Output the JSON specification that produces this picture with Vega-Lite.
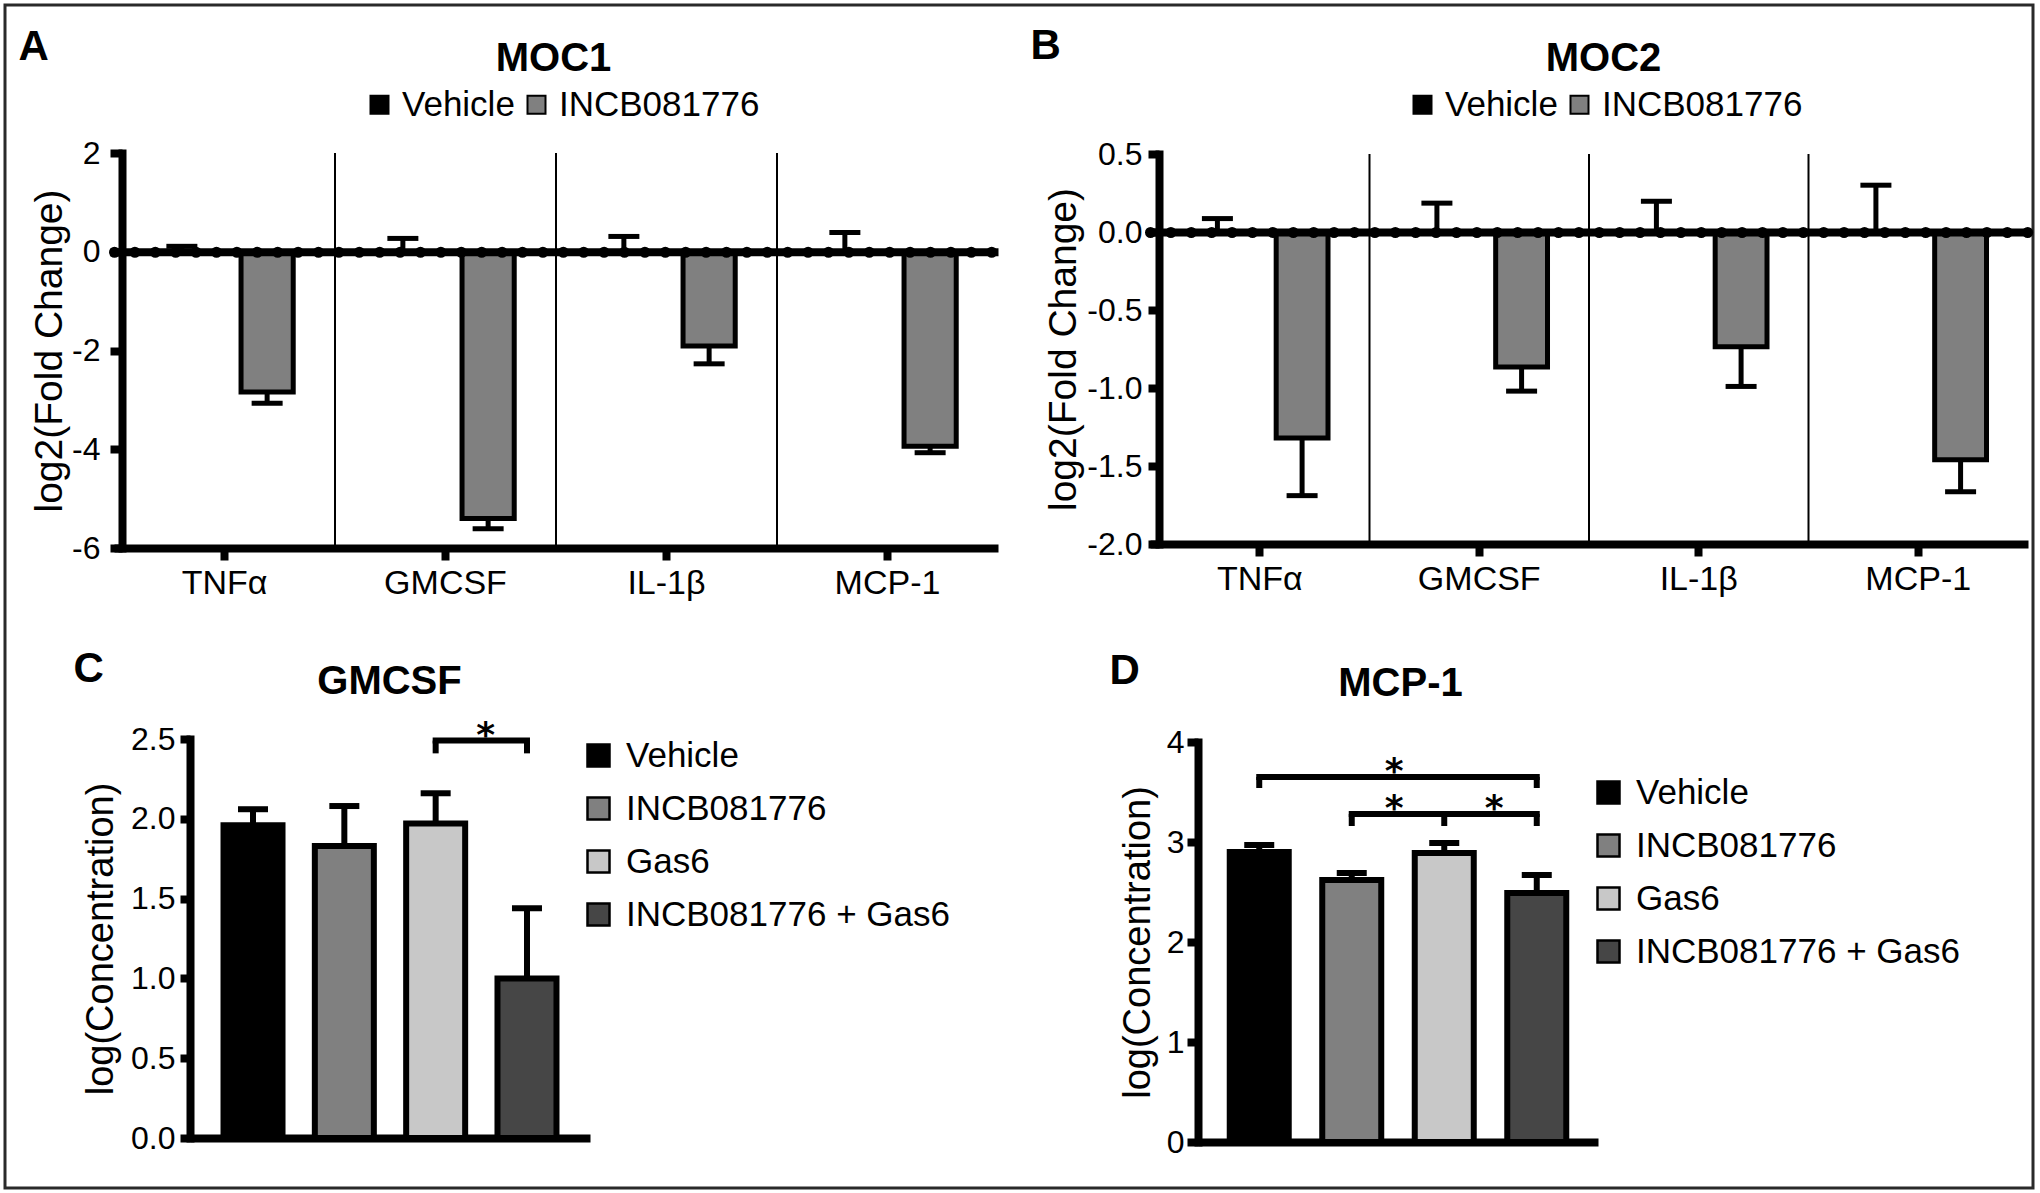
{
  "$schema": "https://vega.github.io/schema/vega-lite/v6.json",
  "width": 2040,
  "height": 1193,
  "autosize": {"type": "fit", "contains": "padding"},
  "padding": {"left": 5, "top": 5, "right": 7, "bottom": 5},
  "background": "white",
  "datasets": {
    "moc": [
      {"panel": "MOC1", "cytokine": "TNFα", "group": "Vehicle", "mean": 0, "errEnd": 0.11},
      {"panel": "MOC1", "cytokine": "TNFα", "group": "INCB081776", "mean": -2.84, "errEnd": -3.07},
      {"panel": "MOC1", "cytokine": "GMCSF", "group": "Vehicle", "mean": 0, "errEnd": 0.27},
      {"panel": "MOC1", "cytokine": "GMCSF", "group": "INCB081776", "mean": -5.4, "errEnd": -5.61},
      {"panel": "MOC1", "cytokine": "IL-1β", "group": "Vehicle", "mean": 0, "errEnd": 0.31},
      {"panel": "MOC1", "cytokine": "IL-1β", "group": "INCB081776", "mean": -1.91, "errEnd": -2.27},
      {"panel": "MOC1", "cytokine": "MCP-1", "group": "Vehicle", "mean": 0, "errEnd": 0.39},
      {"panel": "MOC1", "cytokine": "MCP-1", "group": "INCB081776", "mean": -3.94, "errEnd": -4.07},
      {"panel": "MOC2", "cytokine": "TNFα", "group": "Vehicle", "mean": 0, "errEnd": 0.086},
      {"panel": "MOC2", "cytokine": "TNFα", "group": "INCB081776", "mean": -1.32, "errEnd": -1.69},
      {"panel": "MOC2", "cytokine": "GMCSF", "group": "Vehicle", "mean": 0, "errEnd": 0.185},
      {"panel": "MOC2", "cytokine": "GMCSF", "group": "INCB081776", "mean": -0.865, "errEnd": -1.02},
      {"panel": "MOC2", "cytokine": "IL-1β", "group": "Vehicle", "mean": 0, "errEnd": 0.197},
      {"panel": "MOC2", "cytokine": "IL-1β", "group": "INCB081776", "mean": -0.735, "errEnd": -0.99},
      {"panel": "MOC2", "cytokine": "MCP-1", "group": "Vehicle", "mean": 0, "errEnd": 0.3},
      {"panel": "MOC2", "cytokine": "MCP-1", "group": "INCB081776", "mean": -1.46, "errEnd": -1.665}
    ],
    "conc": [
      {"panel": "GMCSF", "group": "Vehicle", "mean": 1.96, "errEnd": 2.06},
      {"panel": "GMCSF", "group": "INCB081776", "mean": 1.83, "errEnd": 2.08},
      {"panel": "GMCSF", "group": "Gas6", "mean": 1.97, "errEnd": 2.16},
      {"panel": "GMCSF", "group": "INCB081776 + Gas6", "mean": 1.0, "errEnd": 1.44},
      {"panel": "MCP-1", "group": "Vehicle", "mean": 2.9, "errEnd": 2.97},
      {"panel": "MCP-1", "group": "INCB081776", "mean": 2.62, "errEnd": 2.69},
      {"panel": "MCP-1", "group": "Gas6", "mean": 2.89, "errEnd": 2.99},
      {"panel": "MCP-1", "group": "INCB081776 + Gas6", "mean": 2.49, "errEnd": 2.67}
    ],
    "brackets": [
      {"panel": "GMCSF", "from": "Gas6", "to": "INCB081776 + Gas6", "y": 2.49},
      {"panel": "MCP-1", "from": "Vehicle", "to": "INCB081776 + Gas6", "y": 3.65},
      {"panel": "MCP-1", "from": "INCB081776", "to": "Gas6", "y": 3.28},
      {"panel": "MCP-1", "from": "Gas6", "to": "INCB081776 + Gas6", "y": 3.28}
    ],
    "legs": [
      {"panel": "GMCSF", "group": "Gas6", "y": 2.49, "legEnd": 2.41},
      {"panel": "GMCSF", "group": "INCB081776 + Gas6", "y": 2.49, "legEnd": 2.41},
      {"panel": "MCP-1", "group": "Vehicle", "y": 3.65, "legEnd": 3.54},
      {"panel": "MCP-1", "group": "INCB081776 + Gas6", "y": 3.65, "legEnd": 3.54},
      {"panel": "MCP-1", "group": "INCB081776", "y": 3.28, "legEnd": 3.16},
      {"panel": "MCP-1", "group": "Gas6", "y": 3.28, "legEnd": 3.16},
      {"panel": "MCP-1", "group": "INCB081776 + Gas6", "y": 3.28, "legEnd": 3.16}
    ],
    "stars": [
      {"panel": "GMCSF", "leftOf": "Gas6", "y": 2.49},
      {"panel": "MCP-1", "leftOf": "INCB081776", "y": 3.65},
      {"panel": "MCP-1", "leftOf": "INCB081776", "y": 3.28},
      {"panel": "MCP-1", "leftOf": "Gas6", "y": 3.28}
    ]
  },
  "layer": [
    {
      "data": {"name": "moc"},
      "transform": [{"filter": "datum.panel === 'MOC1'"}],
      "mark": {"type": "bar", "stroke": "black", "strokeWidth": 5},
      "encoding": {
        "x": {"field": "cytokine", "type": "nominal",
          "scale": {"domain": ["TNFα", "GMCSF", "IL-1β", "MCP-1"], "range": [109, 993], "paddingInner": 0, "paddingOuter": 0},
          "axis": {"orient": "bottom", "offset": -640, "domainWidth": 8, "tickSize": 12, "tickWidth": 8, "labelFontSize": 34, "labelAngle": 0, "labelBaseline": "alphabetic", "labelPadding": 33,
            "title": "MOC1", "titleFontSize": 40, "titleFontWeight": "bold", "titleX": 548, "titleY": -478, "titleAlign": "center", "titleBaseline": "alphabetic", "titleAngle": 0}},
        "xOffset": {"field": "group", "type": "nominal", "scale": {"domain": ["Vehicle", "INCB081776"], "paddingInner": 0.388, "paddingOuter": 0.49}},
        "y": {"field": "mean", "type": "quantitative",
          "scale": {"domain": [-6, 2], "range": [543, 148], "nice": false, "zero": false},
          "axis": {"orient": "left", "offset": -117, "values": [2, 0, -2, -4, -6], "labelExpr": "replace(format(datum.value, 'd'), '−', '-')", "domainWidth": 8, "domainCap": "square", "tickSize": 12, "tickWidth": 8, "labelPadding": 10, "labelFontSize": 32,
            "title": "log2(Fold Change)", "titleFontSize": 39, "titleAngle": -90, "titleX": -61, "titleAlign": "center", "titleBaseline": "alphabetic"}},
        "fill": {"field": "group", "type": "nominal",
          "scale": {"domain": ["Vehicle", "INCB081776"], "range": ["#000000", "#808080"]},
          "legend": {"orient": "none", "legendX": 357, "legendY": 82, "direction": "horizontal", "title": null, "symbolType": "square", "symbolSize": 324, "symbolStrokeColor": "black", "symbolStrokeWidth": 2, "labelFontSize": 35, "labelOffset": 5, "columnPadding": 4}}
      }
    },
    {
      "data": {"name": "moc"},
      "transform": [{"filter": "datum.panel === 'MOC1' && datum.group === 'Vehicle' && datum.cytokine !== 'TNFα'"}],
      "mark": {"type": "rule", "color": "black", "strokeWidth": 2, "xOffset": -110.5},
      "encoding": {
        "x": {"field": "cytokine", "type": "nominal",
          "scale": {"domain": ["TNFα", "GMCSF", "IL-1β", "MCP-1"], "range": [109, 993], "paddingInner": 0, "paddingOuter": 0}, "axis": null},
        "y": {"datum": 2, "type": "quantitative",
          "scale": {"domain": [-6, 2], "range": [543, 148], "nice": false, "zero": false}, "axis": null},
        "y2": {"datum": -6}
      }
    },
    {
      "data": {"name": "moc"},
      "transform": [{"filter": "datum.panel === 'MOC1'"}],
      "mark": {"type": "rule", "color": "black", "strokeWidth": 5},
      "encoding": {
        "x": {"field": "cytokine", "type": "nominal",
          "scale": {"domain": ["TNFα", "GMCSF", "IL-1β", "MCP-1"], "range": [109, 993], "paddingInner": 0, "paddingOuter": 0},
          "axis": {"orient": "bottom", "offset": -936.25, "domainWidth": 8, "ticks": false, "labels": false, "title": null, "zindex": 1}},
        "xOffset": {"field": "group", "type": "nominal", "scale": {"domain": ["Vehicle", "INCB081776"], "paddingInner": 0.388, "paddingOuter": 0.49}},
        "y": {"field": "mean", "type": "quantitative",
          "scale": {"domain": [-6, 2], "range": [543, 148], "nice": false, "zero": false},
          "axis": {"orient": "left", "offset": 0, "domain": false, "ticks": false, "labels": false, "title": "A", "titleAngle": 0, "titleX": 13, "titleY": 54, "titleAlign": "left", "titleBaseline": "alphabetic", "titleFontSize": 42, "titleFontWeight": "bold"}},
        "y2": {"field": "errEnd"}
      }
    },
    {
      "data": {"name": "moc"},
      "transform": [{"filter": "datum.panel === 'MOC1'"}],
      "mark": {"type": "tick", "color": "black", "thickness": 5, "size": 31, "opacity": 1},
      "encoding": {
        "x": {"field": "cytokine", "type": "nominal",
          "scale": {"domain": ["TNFα", "GMCSF", "IL-1β", "MCP-1"], "range": [109, 993], "paddingInner": 0, "paddingOuter": 0},
          "axis": {"orient": "bottom", "offset": -936.25, "domainWidth": 11, "domainDash": [0, 20.4], "domainCap": "round", "ticks": false, "labels": false, "title": null, "zindex": 1}},
        "xOffset": {"field": "group", "type": "nominal", "scale": {"domain": ["Vehicle", "INCB081776"], "paddingInner": 0.388, "paddingOuter": 0.49}},
        "y": {"field": "errEnd", "type": "quantitative",
          "scale": {"domain": [-6, 2], "range": [543, 148], "nice": false, "zero": false}, "axis": null}
      }
    },
    {
      "data": {"name": "moc"},
      "transform": [{"filter": "datum.panel === 'MOC2'"}],
      "mark": {"type": "bar", "stroke": "black", "strokeWidth": 5},
      "encoding": {
        "x": {"field": "cytokine", "type": "nominal",
          "scale": {"domain": ["TNFα", "GMCSF", "IL-1β", "MCP-1"], "range": [1145, 2023], "paddingInner": 0, "paddingOuter": 0},
          "axis": {"orient": "bottom", "offset": -644, "domainWidth": 8, "tickSize": 12, "tickWidth": 8, "labelFontSize": 34, "labelAngle": 0, "labelBaseline": "alphabetic", "labelPadding": 33,
            "title": "MOC2", "titleFontSize": 40, "titleFontWeight": "bold", "titleX": 1598, "titleY": -474, "titleAlign": "center", "titleBaseline": "alphabetic", "titleAngle": 0}},
        "xOffset": {"field": "group", "type": "nominal", "scale": {"domain": ["Vehicle", "INCB081776"], "paddingInner": 0.388, "paddingOuter": 0.49}},
        "y": {"field": "mean", "type": "quantitative",
          "scale": {"domain": [-2, 0.5], "range": [539, 149], "nice": false, "zero": false},
          "axis": {"orient": "left", "offset": -1154, "values": [0.5, 0, -0.5, -1, -1.5, -2], "labelExpr": "replace(format(datum.value, '.1f'), '−', '-')", "domainWidth": 8, "domainCap": "square", "tickSize": 11, "tickWidth": 8, "labelPadding": 6, "labelFontSize": 32,
            "title": "log2(Fold Change)", "titleFontSize": 39, "titleAngle": -90, "titleX": -84, "titleAlign": "center", "titleBaseline": "alphabetic"}},
        "fill": {"field": "group", "type": "nominal",
          "scale": {"domain": ["Vehicle", "INCB081776"], "range": ["#000000", "#808080"]},
          "legend": {"orient": "none", "legendX": 1400, "legendY": 82, "direction": "horizontal", "title": null, "symbolType": "square", "symbolSize": 324, "symbolStrokeColor": "black", "symbolStrokeWidth": 2, "labelFontSize": 35, "labelOffset": 5, "columnPadding": 4}}
      }
    },
    {
      "data": {"name": "moc"},
      "transform": [{"filter": "datum.panel === 'MOC2' && datum.group === 'Vehicle' && datum.cytokine !== 'TNFα'"}],
      "mark": {"type": "rule", "color": "black", "strokeWidth": 2, "xOffset": -109.75},
      "encoding": {
        "x": {"field": "cytokine", "type": "nominal",
          "scale": {"domain": ["TNFα", "GMCSF", "IL-1β", "MCP-1"], "range": [1145, 2023], "paddingInner": 0, "paddingOuter": 0}, "axis": null},
        "y": {"datum": 0.5, "type": "quantitative",
          "scale": {"domain": [-2, 0.5], "range": [539, 149], "nice": false, "zero": false}, "axis": null},
        "y2": {"datum": -2}
      }
    },
    {
      "data": {"name": "moc"},
      "transform": [{"filter": "datum.panel === 'MOC2'"}],
      "mark": {"type": "rule", "color": "black", "strokeWidth": 5},
      "encoding": {
        "x": {"field": "cytokine", "type": "nominal",
          "scale": {"domain": ["TNFα", "GMCSF", "IL-1β", "MCP-1"], "range": [1145, 2023], "paddingInner": 0, "paddingOuter": 0},
          "axis": {"orient": "bottom", "offset": -956, "domainWidth": 8, "ticks": false, "labels": false, "title": null, "zindex": 1}},
        "xOffset": {"field": "group", "type": "nominal", "scale": {"domain": ["Vehicle", "INCB081776"], "paddingInner": 0.388, "paddingOuter": 0.49}},
        "y": {"field": "mean", "type": "quantitative",
          "scale": {"domain": [-2, 0.5], "range": [539, 149], "nice": false, "zero": false},
          "axis": {"orient": "left", "offset": 0, "domain": false, "ticks": false, "labels": false, "title": "B", "titleAngle": 0, "titleX": 1025, "titleY": 53, "titleAlign": "left", "titleBaseline": "alphabetic", "titleFontSize": 42, "titleFontWeight": "bold"}},
        "y2": {"field": "errEnd"}
      }
    },
    {
      "data": {"name": "moc"},
      "transform": [{"filter": "datum.panel === 'MOC2'"}],
      "mark": {"type": "tick", "color": "black", "thickness": 5, "size": 31, "opacity": 1},
      "encoding": {
        "x": {"field": "cytokine", "type": "nominal",
          "scale": {"domain": ["TNFα", "GMCSF", "IL-1β", "MCP-1"], "range": [1145, 2023], "paddingInner": 0, "paddingOuter": 0},
          "axis": {"orient": "bottom", "offset": -956, "domainWidth": 11, "domainDash": [0, 20.4], "domainCap": "round", "ticks": false, "labels": false, "title": null, "zindex": 1}},
        "xOffset": {"field": "group", "type": "nominal", "scale": {"domain": ["Vehicle", "INCB081776"], "paddingInner": 0.388, "paddingOuter": 0.49}},
        "y": {"field": "errEnd", "type": "quantitative",
          "scale": {"domain": [-2, 0.5], "range": [539, 149], "nice": false, "zero": false}, "axis": null}
      }
    },
    {
      "data": {"name": "conc"},
      "transform": [{"filter": "datum.panel === 'GMCSF'"}],
      "mark": {"type": "bar", "stroke": "black", "strokeWidth": 6, "width": 59},
      "encoding": {
        "x": {"field": "group", "type": "nominal",
          "scale": {"domain": ["Vehicle", "INCB081776", "Gas6", "INCB081776 + Gas6"], "range": [185, 585], "paddingInner": 0, "paddingOuter": 0.19},
          "axis": {"orient": "bottom", "offset": -50, "domainWidth": 8, "ticks": false, "labels": false,
            "title": "GMCSF", "titleFontSize": 40, "titleFontWeight": "bold", "titleX": 384, "titleY": -445, "titleAlign": "center", "titleBaseline": "alphabetic", "titleAngle": 0}},
        "y": {"field": "mean", "type": "quantitative",
          "scale": {"domain": [0, 2.5], "range": [1133, 734], "nice": false, "zero": false},
          "axis": {"orient": "left", "offset": -185, "values": [0, 0.5, 1, 1.5, 2, 2.5], "format": ".1f", "domainWidth": 8, "domainCap": "square", "tickSize": 10, "tickWidth": 8, "labelPadding": 5, "labelFontSize": 32,
            "title": "log(Concentration)", "titleFontSize": 38, "titleAngle": -90, "titleX": -78, "titleAlign": "center", "titleBaseline": "alphabetic"}},
        "fill": {"field": "group", "type": "nominal",
          "scale": {"domain": ["Vehicle", "INCB081776", "Gas6", "INCB081776 + Gas6"], "range": ["#000000", "#808080", "#c8c8c8", "#464646"]},
          "legend": {"orient": "none", "legendX": 576, "legendY": 733, "direction": "vertical", "title": null, "symbolType": "square", "symbolSize": 484, "symbolStrokeColor": "black", "symbolStrokeWidth": 2.5, "labelFontSize": 35, "labelOffset": 10, "rowPadding": 17}}
      }
    },
    {
      "data": {"name": "conc"},
      "transform": [{"filter": "datum.panel === 'GMCSF'"}],
      "mark": {"type": "rule", "color": "black", "strokeWidth": 6},
      "encoding": {
        "x": {"field": "group", "type": "nominal",
          "scale": {"domain": ["Vehicle", "INCB081776", "Gas6", "INCB081776 + Gas6"], "range": [185, 585], "paddingInner": 0, "paddingOuter": 0.19}, "axis": null},
        "y": {"field": "mean", "type": "quantitative",
          "scale": {"domain": [0, 2.5], "range": [1133, 734], "nice": false, "zero": false},
          "axis": {"orient": "left", "offset": 0, "domain": false, "ticks": false, "labels": false, "title": "C", "titleAngle": 0, "titleX": 68, "titleY": 676, "titleAlign": "left", "titleBaseline": "alphabetic", "titleFontSize": 42, "titleFontWeight": "bold"}},
        "y2": {"field": "errEnd"}
      }
    },
    {
      "data": {"name": "conc"},
      "transform": [{"filter": "datum.panel === 'GMCSF'"}],
      "mark": {"type": "tick", "color": "black", "thickness": 6, "size": 30, "opacity": 1},
      "encoding": {
        "x": {"field": "group", "type": "nominal",
          "scale": {"domain": ["Vehicle", "INCB081776", "Gas6", "INCB081776 + Gas6"], "range": [185, 585], "paddingInner": 0, "paddingOuter": 0.19}, "axis": null},
        "y": {"field": "errEnd", "type": "quantitative",
          "scale": {"domain": [0, 2.5], "range": [1133, 734], "nice": false, "zero": false}, "axis": null}
      }
    },
    {
      "data": {"name": "brackets"},
      "transform": [{"filter": "datum.panel === 'GMCSF'"}],
      "mark": {"type": "rule", "color": "black", "strokeWidth": 6, "strokeCap": "square"},
      "encoding": {
        "x": {"field": "from", "type": "nominal",
          "scale": {"domain": ["Vehicle", "INCB081776", "Gas6", "INCB081776 + Gas6"], "range": [185, 585], "paddingInner": 0, "paddingOuter": 0.19}, "axis": null},
        "x2": {"field": "to"},
        "y": {"field": "y", "type": "quantitative",
          "scale": {"domain": [0, 2.5], "range": [1133, 734], "nice": false, "zero": false}, "axis": null}
      }
    },
    {
      "data": {"name": "legs"},
      "transform": [{"filter": "datum.panel === 'GMCSF'"}],
      "mark": {"type": "rule", "color": "black", "strokeWidth": 6},
      "encoding": {
        "x": {"field": "group", "type": "nominal",
          "scale": {"domain": ["Vehicle", "INCB081776", "Gas6", "INCB081776 + Gas6"], "range": [185, 585], "paddingInner": 0, "paddingOuter": 0.19}, "axis": null},
        "y": {"field": "y", "type": "quantitative",
          "scale": {"domain": [0, 2.5], "range": [1133, 734], "nice": false, "zero": false}, "axis": null},
        "y2": {"field": "legEnd"}
      }
    },
    {
      "data": {"name": "stars"},
      "transform": [{"filter": "datum.panel === 'GMCSF'"}],
      "mark": {"type": "text", "text": "*", "font": "DejaVu Sans", "fontSize": 36, "fontWeight": "bold", "baseline": "alphabetic", "align": "center", "dx": 45.66, "dy": 6, "color": "black"},
      "encoding": {
        "x": {"field": "leftOf", "type": "nominal",
          "scale": {"domain": ["Vehicle", "INCB081776", "Gas6", "INCB081776 + Gas6"], "range": [185, 585], "paddingInner": 0, "paddingOuter": 0.19}, "axis": null},
        "y": {"field": "y", "type": "quantitative",
          "scale": {"domain": [0, 2.5], "range": [1133, 734], "nice": false, "zero": false}, "axis": null}
      }
    },
    {
      "data": {"name": "conc"},
      "transform": [{"filter": "datum.panel === 'MCP-1'"}],
      "mark": {"type": "bar", "stroke": "black", "strokeWidth": 6, "width": 59},
      "encoding": {
        "x": {"field": "group", "type": "nominal",
          "scale": {"domain": ["Vehicle", "INCB081776", "Gas6", "INCB081776 + Gas6"], "range": [1193, 1593], "paddingInner": 0, "paddingOuter": 0.162},
          "axis": {"orient": "bottom", "offset": -46, "domainWidth": 8, "ticks": false, "labels": false,
            "title": "MCP-1", "titleFontSize": 40, "titleFontWeight": "bold", "titleX": 1395, "titleY": -447, "titleAlign": "center", "titleBaseline": "alphabetic", "titleAngle": 0}},
        "y": {"field": "mean", "type": "quantitative",
          "scale": {"domain": [0, 4], "range": [1137, 737], "nice": false, "zero": false},
          "axis": {"orient": "left", "offset": -1193, "values": [0, 1, 2, 3, 4], "format": "d", "domainWidth": 8, "domainCap": "square", "tickSize": 11, "tickWidth": 8, "labelPadding": 3, "labelFontSize": 32,
            "title": "log(Concentration)", "titleFontSize": 38, "titleAngle": -90, "titleX": -49, "titleAlign": "center", "titleBaseline": "alphabetic"}},
        "fill": {"field": "group", "type": "nominal",
          "scale": {"domain": ["Vehicle", "INCB081776", "Gas6", "INCB081776 + Gas6"], "range": ["#000000", "#808080", "#c8c8c8", "#464646"]},
          "legend": {"orient": "none", "legendX": 1586, "legendY": 770, "direction": "vertical", "title": null, "symbolType": "square", "symbolSize": 484, "symbolStrokeColor": "black", "symbolStrokeWidth": 2.5, "labelFontSize": 35, "labelOffset": 10, "rowPadding": 17}}
      }
    },
    {
      "data": {"name": "conc"},
      "transform": [{"filter": "datum.panel === 'MCP-1'"}],
      "mark": {"type": "rule", "color": "black", "strokeWidth": 6},
      "encoding": {
        "x": {"field": "group", "type": "nominal",
          "scale": {"domain": ["Vehicle", "INCB081776", "Gas6", "INCB081776 + Gas6"], "range": [1193, 1593], "paddingInner": 0, "paddingOuter": 0.162}, "axis": null},
        "y": {"field": "mean", "type": "quantitative",
          "scale": {"domain": [0, 4], "range": [1137, 737], "nice": false, "zero": false},
          "axis": {"orient": "left", "offset": 0, "domain": false, "ticks": false, "labels": false, "title": "D", "titleAngle": 0, "titleX": 1104, "titleY": 678, "titleAlign": "left", "titleBaseline": "alphabetic", "titleFontSize": 42, "titleFontWeight": "bold"}},
        "y2": {"field": "errEnd"}
      }
    },
    {
      "data": {"name": "conc"},
      "transform": [{"filter": "datum.panel === 'MCP-1'"}],
      "mark": {"type": "tick", "color": "black", "thickness": 6, "size": 30, "opacity": 1},
      "encoding": {
        "x": {"field": "group", "type": "nominal",
          "scale": {"domain": ["Vehicle", "INCB081776", "Gas6", "INCB081776 + Gas6"], "range": [1193, 1593], "paddingInner": 0, "paddingOuter": 0.162}, "axis": null},
        "y": {"field": "errEnd", "type": "quantitative",
          "scale": {"domain": [0, 4], "range": [1137, 737], "nice": false, "zero": false}, "axis": null}
      }
    },
    {
      "data": {"name": "brackets"},
      "transform": [{"filter": "datum.panel === 'MCP-1'"}],
      "mark": {"type": "rule", "color": "black", "strokeWidth": 6, "strokeCap": "square"},
      "encoding": {
        "x": {"field": "from", "type": "nominal",
          "scale": {"domain": ["Vehicle", "INCB081776", "Gas6", "INCB081776 + Gas6"], "range": [1193, 1593], "paddingInner": 0, "paddingOuter": 0.162}, "axis": null},
        "x2": {"field": "to"},
        "y": {"field": "y", "type": "quantitative",
          "scale": {"domain": [0, 4], "range": [1137, 737], "nice": false, "zero": false}, "axis": null}
      }
    },
    {
      "data": {"name": "legs"},
      "transform": [{"filter": "datum.panel === 'MCP-1'"}],
      "mark": {"type": "rule", "color": "black", "strokeWidth": 6},
      "encoding": {
        "x": {"field": "group", "type": "nominal",
          "scale": {"domain": ["Vehicle", "INCB081776", "Gas6", "INCB081776 + Gas6"], "range": [1193, 1593], "paddingInner": 0, "paddingOuter": 0.162}, "axis": null},
        "y": {"field": "y", "type": "quantitative",
          "scale": {"domain": [0, 4], "range": [1137, 737], "nice": false, "zero": false}, "axis": null},
        "y2": {"field": "legEnd"}
      }
    },
    {
      "data": {"name": "stars"},
      "transform": [{"filter": "datum.panel === 'MCP-1'"}],
      "mark": {"type": "text", "text": "*", "font": "DejaVu Sans", "fontSize": 36, "fontWeight": "bold", "baseline": "alphabetic", "align": "center", "dx": 46.25, "dy": 6, "color": "black"},
      "encoding": {
        "x": {"field": "leftOf", "type": "nominal",
          "scale": {"domain": ["Vehicle", "INCB081776", "Gas6", "INCB081776 + Gas6"], "range": [1193, 1593], "paddingInner": 0, "paddingOuter": 0.162}, "axis": null},
        "y": {"field": "y", "type": "quantitative",
          "scale": {"domain": [0, 4], "range": [1137, 737], "nice": false, "zero": false}, "axis": null}
      }
    }
  ],
  "resolve": {
    "scale": {"x": "independent", "y": "independent", "xOffset": "independent", "fill": "independent"},
    "axis": {"x": "independent", "y": "independent"},
    "legend": {"fill": "independent"}
  },
  "config": {
    "font": "Liberation Sans",
    "view": {"stroke": "#2a2a2a", "strokeWidth": 3},
    "axis": {"grid": false, "domainColor": "black", "tickColor": "black", "labelColor": "black", "titleColor": "black", "labelFont": "Liberation Sans", "titleFont": "Liberation Sans", "titleFontWeight": "normal", "labelFontWeight": "normal", "labelFontSize": 32, "titleFontSize": 39, "titleLimit": 0, "labelLimit": 0},
    "legend": {"labelFont": "Liberation Sans", "labelColor": "black", "padding": 0, "offset": 0, "labelLimit": 0},
    "text": {"font": "Liberation Sans"}
  }
}
